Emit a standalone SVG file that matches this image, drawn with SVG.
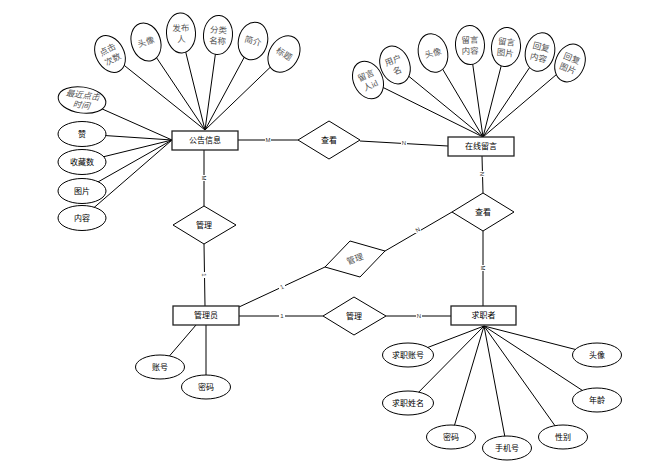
<svg xmlns="http://www.w3.org/2000/svg" width="660" height="473" viewBox="0 0 660 473">
<style>
.ln{stroke:#000;stroke-width:1;fill:none}
.ent{fill:#fff;stroke:#222;stroke-width:1.3}
.ell{fill:#fff;stroke:#000;stroke-width:1}
.dia{fill:#fff;stroke:#000;stroke-width:1}
.t{font-family:"Liberation Sans","Noto Sans CJK SC",sans-serif;font-size:8px;fill:#000;text-anchor:middle;dominant-baseline:central}
.g{font-family:"Liberation Serif","Noto Sans CJK SC",serif;font-size:8.5px;fill:#555;text-anchor:middle;dominant-baseline:central}
.lb{font-family:"Liberation Sans",sans-serif;font-size:6px;fill:#333;text-anchor:middle;dominant-baseline:central}
</style>
<rect width="660" height="473" fill="#fff"/>
<g id="connectors">
  <line class="ln" x1="110" y1="54" x2="205" y2="130"/>
  <line class="ln" x1="146" y1="42" x2="205" y2="130"/>
  <line class="ln" x1="181" y1="33" x2="205" y2="130"/>
  <line class="ln" x1="218" y1="35" x2="205" y2="130"/>
  <line class="ln" x1="253" y1="41" x2="205" y2="130"/>
  <line class="ln" x1="284" y1="54" x2="205" y2="130"/>
  <line class="ln" x1="82" y1="100" x2="172" y2="140"/>
  <line class="ln" x1="82" y1="134" x2="172" y2="140"/>
  <line class="ln" x1="82" y1="162" x2="172" y2="140"/>
  <line class="ln" x1="82" y1="191" x2="172" y2="140"/>
  <line class="ln" x1="82" y1="218" x2="172" y2="140"/>
  <line class="ln" x1="368" y1="80" x2="483" y2="137"/>
  <line class="ln" x1="395" y1="65" x2="483" y2="137"/>
  <line class="ln" x1="433" y1="53" x2="483" y2="137"/>
  <line class="ln" x1="470" y1="45" x2="483" y2="137"/>
  <line class="ln" x1="506" y1="47" x2="483" y2="137"/>
  <line class="ln" x1="540" y1="52" x2="483" y2="137"/>
  <line class="ln" x1="570" y1="63" x2="483" y2="137"/>
  <line class="ln" x1="408" y1="355" x2="484" y2="326"/>
  <line class="ln" x1="408" y1="403" x2="484" y2="326"/>
  <line class="ln" x1="451" y1="437" x2="484" y2="326"/>
  <line class="ln" x1="507" y1="448" x2="484" y2="326"/>
  <line class="ln" x1="563" y1="437" x2="484" y2="326"/>
  <line class="ln" x1="597" y1="400" x2="484" y2="326"/>
  <line class="ln" x1="597" y1="355" x2="484" y2="326"/>
  <line class="ln" x1="160" y1="367" x2="196" y2="325"/>
  <line class="ln" x1="206" y1="387" x2="206" y2="325"/>
  <line class="ln" x1="238" y1="140" x2="298" y2="140"/>
  <line class="ln" x1="360" y1="141" x2="448" y2="146"/>
  <line class="ln" x1="204" y1="150" x2="204" y2="206"/>
  <line class="ln" x1="204" y1="244" x2="205" y2="306"/>
  <line class="ln" x1="239" y1="307" x2="325" y2="267"/>
  <line class="ln" x1="385" y1="251" x2="452" y2="212"/>
  <line class="ln" x1="482" y1="156" x2="483" y2="193"/>
  <line class="ln" x1="483" y1="231" x2="483" y2="306"/>
  <line class="ln" x1="239" y1="316" x2="323" y2="316"/>
  <line class="ln" x1="386" y1="316" x2="451" y2="316"/>
  <rect x="265" y="137" width="6" height="6" fill="#fff"/><text class="lb" x="268" y="140" fill="#a60">M</text>
  <rect x="401" y="140" width="6" height="6" fill="#fff"/><text class="lb" x="404" y="143" fill="#777">N</text>
  <rect x="201" y="175" width="6" height="6" fill="#fff"/><text class="lb" x="204" y="178" transform="rotate(90 204 178)">M</text>
  <rect x="201" y="272" width="6" height="6" fill="#fff"/><text class="lb" x="204" y="275" transform="rotate(90 204 275)" fill="#777">1</text>
  <rect x="279" y="284" width="6" height="6" fill="#fff"/><text class="lb" x="282" y="287" transform="rotate(-25 282 287)" fill="#777">1</text>
  <rect x="415" y="227" width="6" height="6" fill="#fff"/><text class="lb" x="418" y="230" transform="rotate(-30 418 230)" fill="#777">N</text>
  <rect x="479" y="171" width="6" height="6" fill="#fff"/><text class="lb" x="482" y="174" transform="rotate(90 482 174)" fill="#777">N</text>
  <rect x="480" y="265" width="6" height="6" fill="#fff"/><text class="lb" x="483" y="268" transform="rotate(90 483 268)">M</text>
  <rect x="279" y="313" width="6" height="6" fill="#fff"/><text class="lb" x="282" y="316" fill="#36a">1</text>
  <rect x="416" y="313" width="6" height="6" fill="#fff"/><text class="lb" x="419" y="316" fill="#36a">N</text>
</g>
<g id="gonggao"><rect class="ent" x="172" y="131" width="66" height="19"/><text class="t" x="205" y="140.5">公告信息</text></g>
<g id="liuyan"><rect class="ent" x="448" y="137" width="66" height="19"/><text class="t" x="481" y="146.5">在线留言</text></g>
<g id="guanliyuan"><rect class="ent" x="173" y="306" width="66" height="19"/><text class="t" x="206" y="315.5">管理员</text></g>
<g id="qiuzhizhe"><rect class="ent" x="451" y="306" width="65" height="19"/><text class="t" x="483.5" y="315.5">求职者</text></g>
<g id="rel-chakan1"><polygon class="dia" points="298,140 329,121 360,140 329,159"/><text class="t" x="329" y="140">查看</text></g>
<g id="rel-guanli1"><polygon class="dia" points="173,225 204,206 236,225 204,244"/><text class="t" x="204" y="225">管理</text></g>
<g id="rel-chakan2"><polygon class="dia" points="452,212 483,193 514,212 483,231"/><text class="t" x="483" y="212">查看</text></g>
<g id="rel-guanli2"><polygon class="dia" points="350,241 385,251 360,277 325,267"/><text class="g" x="355" y="259" transform="rotate(-20 355 259)">管理</text></g>
<g id="rel-guanli3"><polygon class="dia" points="323,316 354,297 386,316 354,335"/><text class="t" x="354" y="316">管理</text></g>
<g id="a-djcs" transform="translate(110,54) rotate(-28)"><ellipse class="ell" rx="14" ry="19.5"/><text class="g" y="-5">点击</text><text class="g" y="6">次数</text></g>
<g id="a-tx1" transform="translate(146,42) rotate(-18)"><ellipse class="ell" rx="14.5" ry="19.5"/><text class="g">头像</text></g>
<g id="a-fbr" transform="translate(181,33) rotate(-3)"><ellipse class="ell" rx="14.5" ry="20"/><text class="g" y="-5">发布</text><text class="g" y="6">人</text></g>
<g id="a-flmc" transform="translate(218,35) rotate(4)"><ellipse class="ell" rx="14.5" ry="19.5"/><text class="g" y="-5">分类</text><text class="g" y="6">名称</text></g>
<g id="a-jj" transform="translate(253,41) rotate(14)"><ellipse class="ell" rx="14.5" ry="19"/><text class="g">简介</text></g>
<g id="a-bt" transform="translate(284,54) rotate(32)"><ellipse class="ell" rx="14.5" ry="19.5"/><text class="g">标题</text></g>
<g id="a-zjdjsj" transform="translate(82,100) rotate(8)"><ellipse class="ell" rx="24" ry="13"/><text class="g" y="-5" font-style="italic">最近点击</text><text class="g" y="5" font-style="italic">时间</text></g>
<g id="a-zan"><ellipse class="ell" cx="82" cy="134" rx="24" ry="12.5"/><text class="t" x="82" y="134">赞</text></g>
<g id="a-scs"><ellipse class="ell" cx="82" cy="162" rx="24" ry="12.5"/><text class="t" x="82" y="162">收藏数</text></g>
<g id="a-tp"><ellipse class="ell" cx="82" cy="191" rx="24" ry="12.5"/><text class="t" x="82" y="191">图片</text></g>
<g id="a-nr"><ellipse class="ell" cx="82" cy="218" rx="24" ry="12.5"/><text class="t" x="82" y="218">内容</text></g>
<g id="b-lyrid" transform="translate(368,80) rotate(-25)"><ellipse class="ell" rx="14.5" ry="19.5"/><text class="g" y="-5">留言</text><text class="g" y="6">人id</text></g>
<g id="b-yhm" transform="translate(395,65) rotate(-22)"><ellipse class="ell" rx="14.5" ry="19.5"/><text class="g" y="-5">用户</text><text class="g" y="6">名</text></g>
<g id="b-tx" transform="translate(433,53) rotate(-14)"><ellipse class="ell" rx="14.5" ry="19.5"/><text class="g">头像</text></g>
<g id="b-lynr" transform="translate(470,45) rotate(-2)"><ellipse class="ell" rx="14.5" ry="19.5"/><text class="g" y="-5">留言</text><text class="g" y="6">内容</text></g>
<g id="b-lytp" transform="translate(506,47) rotate(6)"><ellipse class="ell" rx="14.5" ry="19.5"/><text class="g" y="-5">留言</text><text class="g" y="6">图片</text></g>
<g id="b-hfnr" transform="translate(540,52) rotate(14)"><ellipse class="ell" rx="14.5" ry="19.5"/><text class="g" y="-5">回复</text><text class="g" y="6">内容</text></g>
<g id="b-hftp" transform="translate(570,63) rotate(22)"><ellipse class="ell" rx="14.5" ry="19.5"/><text class="g" y="-5">回复</text><text class="g" y="6">图片</text></g>
<g id="c-zh"><ellipse class="ell" cx="160" cy="367" rx="24.5" ry="12"/><text class="t" x="160" y="367">账号</text></g>
<g id="c-mm"><ellipse class="ell" cx="206" cy="387" rx="24.5" ry="12"/><text class="t" x="206" y="387">密码</text></g>
<g id="d-qzzh"><ellipse class="ell" cx="408" cy="355" rx="25.5" ry="12"/><text class="t" x="408" y="355">求职账号</text></g>
<g id="d-qzxm"><ellipse class="ell" cx="408" cy="403" rx="25.5" ry="12"/><text class="t" x="408" y="403">求职姓名</text></g>
<g id="d-mm"><ellipse class="ell" cx="451" cy="437" rx="24.5" ry="12"/><text class="t" x="451" y="437">密码</text></g>
<g id="d-sjh"><ellipse class="ell" cx="507" cy="448" rx="24.5" ry="12"/><text class="t" x="507" y="448">手机号</text></g>
<g id="d-xb"><ellipse class="ell" cx="563" cy="437" rx="24.5" ry="12"/><text class="t" x="563" y="437">性别</text></g>
<g id="d-nl"><ellipse class="ell" cx="597" cy="400" rx="24.5" ry="12"/><text class="t" x="597" y="400">年龄</text></g>
<g id="d-tx"><ellipse class="ell" cx="597" cy="355" rx="24.5" ry="12"/><text class="t" x="597" y="355">头像</text></g>
</svg>
